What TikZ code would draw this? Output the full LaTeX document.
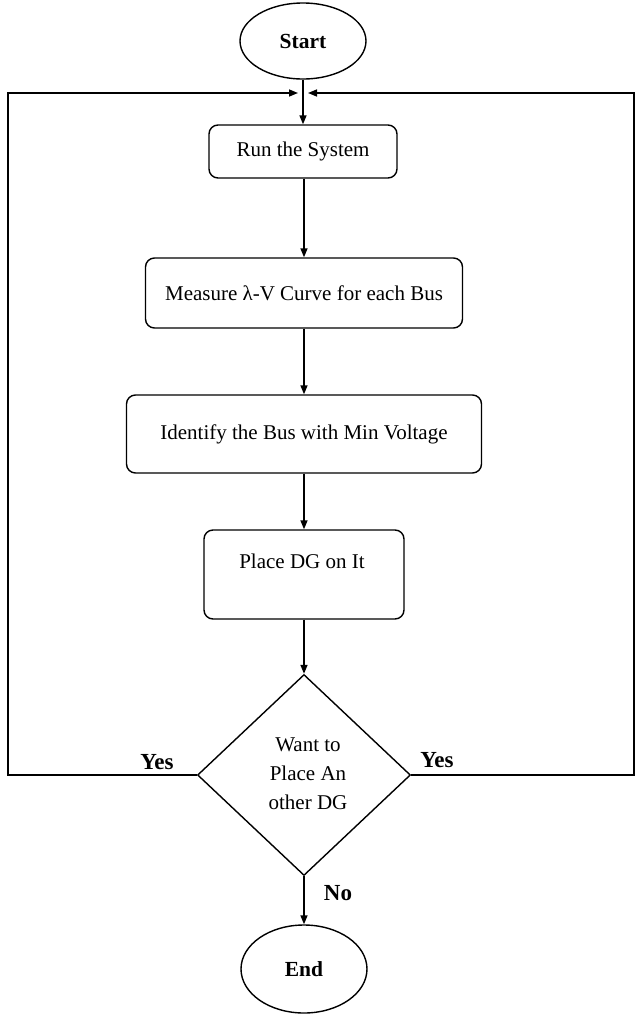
\documentclass[tikz,border=0pt]{standalone}
\usepackage{fontspec}
\setmainfont{Liberation Serif}
\usetikzlibrary{shapes.geometric,arrows.meta}
\begin{document}
\begin{tikzpicture}[x=1pt,y=-1pt,
  every node/.style={font=\fontsize{21}{29}\selectfont},
  term/.style={draw,ellipse,line width=1.4pt,minimum width=126pt,minimum height=76pt,inner sep=0pt,font=\fontsize{21.5}{24}\selectfont\bfseries},
  procbox/.style={draw,rounded corners=9pt,line width=1.4pt,inner sep=0pt},
  decision/.style={draw,diamond,line width=1.4pt,inner sep=0pt,minimum width=213pt,minimum height=201pt,align=center},
  lbl/.style={font=\fontsize{23}{26}\selectfont\bfseries},
  tip/.style={-{Triangle[length=9pt,width=7pt]}},
  flow/.style={line width=1.5pt,tip},
  line/.style={line width=1.5pt}]
\useasboundingbox (0,0) rectangle (636,1015);
\node[term] (start) at (303,41) {Start};
\node[procbox,minimum width=188pt,minimum height=53pt] (run) at (303,151.5) {Run the System};
\node[procbox,minimum width=317pt,minimum height=70pt] (meas) at (304,293) {Measure λ-V Curve for each Bus};
\node[procbox,minimum width=355pt,minimum height=78pt] (ident) at (304,434) {Identify the Bus with Min Voltage};
\node[procbox,minimum width=200pt,minimum height=89pt] (place) at (304,574.5) {};
\node (placetxt) at (302,561) {Place DG on It};
\node[decision] (dec) at (304,775) {};
\node[align=center] (dectxt) at (308,774) {Want to\\Place An\\other DG};
\node[term,minimum height=88pt] (end) at (304,969) {End};
\coordinate (jl) at (298,93);
\coordinate (jr) at (308,93);
\coordinate (lt) at (8,93);
\coordinate (rt) at (634,93);
\draw[flow] (start) -- (run.north -| start);
\draw[flow] (run.south -| meas.north) -- (meas.north);
\draw[flow] (meas) -- (meas.south |- ident.north);
\draw[flow] (ident) -- (ident.south |- place.north);
\draw[flow] (place.south) -- (place.south |- dec.north);
\draw[flow] (dec.south) -- (end.north -| dec.south);
\draw[line,tip] (dec.west) -| (lt) -- (jl);
\draw[line,tip] (dec.east) -| (rt) -- (jr);
\node[lbl] (yl) at (157,762) {Yes};
\node[lbl] (yr) at (437,760) {Yes};
\node[lbl] (no) at (338,893) {No};
\end{tikzpicture}
\end{document}
